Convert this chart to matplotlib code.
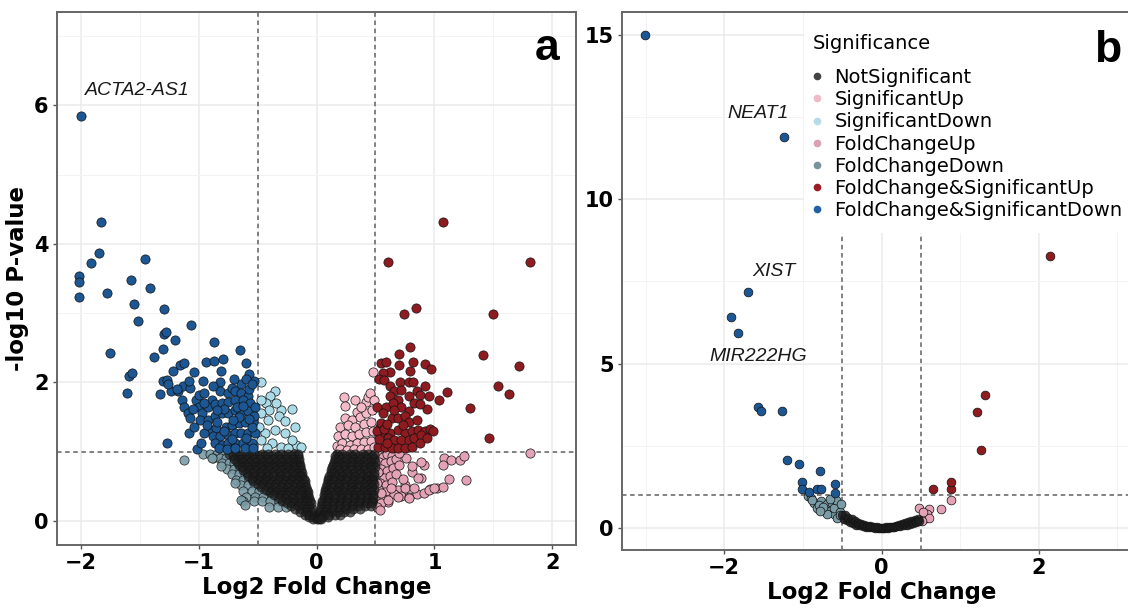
import matplotlib
matplotlib.use("Agg")
import matplotlib.pyplot as plt
from matplotlib.lines import Line2D
from matplotlib.patches import Rectangle
from matplotlib.ticker import MultipleLocator

# ---------------- Panel a data ----------------
a_fcsd_x = [-2.00, -1.83, -1.84, -1.91, -2.01, -2.01, -2.01, -1.78, -1.45, -1.57, -1.41, -1.55, -1.51,
            -1.29, -1.75, -1.06, -1.29, -1.28, -1.20, -1.30, -1.38, -0.87, -0.65, -1.59, -1.56, -1.61,
            -1.33, -0.94, -0.87, -0.79, -1.16, -1.12, -1.22, -1.04, -0.81, -1.30, -1.27, -0.96, -0.82,
            -0.57, -0.53, -1.08, -1.27, -1.01,
            -1.23, -1.17, -1.13, -1.07, -1.14, -1.12, -1.09, -1.07, -1.02, -1.00, -0.95, -0.89, -0.82,
            -0.75, -0.72, -0.69, -0.64, -0.64, -0.58, -1.00, -0.97, -0.92, -0.86, -0.80, -0.75, -0.69,
            -0.62, -0.56, -0.99, -0.92, -0.86, -0.80, -0.75, -0.69, -0.64, -0.58, -0.52, -0.90, -0.85,
            -0.77, -0.72, -0.66, -0.61, -0.54, -0.95, -0.88, -0.82, -0.75, -0.69, -0.64, -0.58, -0.52,
            -0.86, -0.80, -0.75, -0.69, -0.62, -0.55, -0.83, -0.76, -0.69, -0.61, -0.54,
            -0.57, -0.60, -0.67, -0.55, -0.60, -0.72, -0.78, -0.84, -0.93, -0.98, -1.04, -0.66, -0.71,
            -0.53, -0.57, -0.62, -0.78, -0.84, -0.95, -1.05, -1.18, -1.26, -1.08, -0.88, -0.70, -0.60, -0.55]
a_fcsd_y = [5.85, 4.31, 3.87, 3.72, 3.53, 3.45, 3.23, 3.29, 3.78, 3.48, 3.36, 3.13, 2.89,
            3.06, 2.42, 2.83, 2.70, 2.72, 2.61, 2.48, 2.37, 2.58, 2.47, 2.09, 2.13, 1.84,
            1.83, 2.29, 2.31, 2.33, 2.25, 2.28, 2.16, 2.15, 2.16, 2.02, 2.04, 2.02, 2.00,
            2.12, 2.02, 1.27, 1.13, 1.04,
            1.87, 1.87, 1.94, 1.92, 1.75, 1.65, 1.56, 1.49, 1.75, 1.82, 1.85, 1.75, 1.87,
            1.85, 1.92, 1.87, 1.97, 1.85, 1.80, 1.65, 1.56, 1.65, 1.68, 1.70, 1.72, 1.75,
            1.75, 1.70, 1.46, 1.46, 1.51, 1.56, 1.56, 1.60, 1.56, 1.58, 1.65, 1.31, 1.34,
            1.36, 1.39, 1.41, 1.43, 1.43, 1.27, 1.22, 1.22, 1.24, 1.27, 1.27, 1.27, 1.27,
            1.12, 1.10, 1.12, 1.12, 1.12, 1.12, 1.05, 1.03, 1.05, 1.05, 1.05,
            1.90, 2.05, 1.65, 1.35, 1.20, 1.18, 1.30, 1.42, 1.38, 1.13, 1.35, 1.50, 1.45,
            1.52, 1.47, 1.66, 1.62, 1.60, 1.70, 1.62, 1.90, 1.98, 2.02, 1.95, 2.05, 2.28, 1.98]

a_fcsu_x = [1.07, 0.61, 1.81, 0.84, 0.74, 1.50, 0.79, 1.41, 1.72, 0.70, 0.55, 0.59, 0.70, 0.82, 0.92,
            0.97, 0.62, 0.79, 0.56, 0.53, 0.57, 0.71, 0.78, 0.82, 0.92, 1.11, 1.54, 1.63, 1.30, 1.04,
            0.95, 0.94, 1.46,
            0.62, 0.66, 0.72, 0.85, 0.88, 0.62, 0.69, 0.78, 0.83, 0.88, 0.51, 0.59, 0.65, 0.72, 0.78,
            0.64, 0.69, 0.75, 0.78, 0.85, 0.54, 0.58, 0.62, 0.69, 0.75, 0.81, 0.86, 0.92, 0.96, 0.99,
            0.55, 0.61, 0.66, 0.72, 0.78, 0.83, 0.89, 0.52, 0.58, 0.64, 0.69, 0.75, 0.81, 0.51, 0.55,
            0.57, 0.53, 0.60, 0.56, 0.66, 0.73, 0.88, 0.94, 0.60]
a_fcsu_y = [4.31, 3.74, 3.74, 3.08, 2.98, 2.98, 2.51, 2.40, 2.24, 2.41, 2.28, 2.29, 2.25, 2.30, 2.26,
            2.19, 2.15, 2.16, 2.13, 2.05, 2.03, 2.00, 2.00, 2.00, 1.95, 1.86, 1.95, 1.83, 1.63, 1.74,
            1.80, 1.62, 1.20,
            1.94, 1.87, 1.89, 1.87, 1.82, 1.80, 1.75, 1.80, 1.70, 1.69, 1.65, 1.65, 1.70, 1.65, 1.58,
            1.49, 1.49, 1.51, 1.43, 1.46, 1.36, 1.31, 1.27, 1.31, 1.27, 1.29, 1.31, 1.29, 1.33, 1.29,
            1.22, 1.19, 1.17, 1.17, 1.17, 1.19, 1.24, 1.07, 1.07, 1.05, 1.05, 1.05, 1.07, 1.29, 1.41,
            1.33, 1.18, 1.40, 1.55, 1.60, 1.38, 1.12, 1.20, 1.12]

a_fcu_x = [1.08, 1.14, 1.22, 1.25, 1.07, 0.91, 0.81, 0.89, 1.12, 1.27, 0.75, 0.69, 0.66, 0.72, 0.78,
           0.85, 0.91, 0.96, 1.02, 1.07, 0.61, 1.81,
           0.52, 0.56, 0.60, 0.64, 0.53, 0.58, 0.63, 0.67, 0.55, 0.60, 0.65, 0.70, 0.52, 0.57, 0.62,
           0.67, 0.54, 0.59, 0.64, 0.53, 0.58, 0.63, 0.52, 0.57, 0.55, 0.81, 0.89, 0.86, 0.75, 0.83,
           0.95, 1.00, 0.61, 0.69, 0.78, 0.73, 0.76, 0.70, 0.51, 0.54, 0.52, 0.55, 0.51]
a_fcu_y = [0.91, 0.88, 0.88, 0.94, 0.80, 0.80, 0.70, 0.62, 0.60, 0.59, 0.52, 0.44, 0.38, 0.36, 0.34,
           0.38, 0.40, 0.46, 0.48, 0.49, 0.27, 0.98,
           0.95, 0.92, 0.96, 0.93, 0.85, 0.83, 0.86, 0.89, 0.75, 0.72, 0.76, 0.80, 0.66, 0.62, 0.65,
           0.68, 0.55, 0.52, 0.56, 0.45, 0.42, 0.47, 0.35, 0.32, 0.25, 0.79, 0.85, 0.62, 0.47, 0.47,
           0.45, 0.47, 0.30, 0.35, 0.33, 0.60, 0.90, 0.98, 0.20, 0.16, 0.70, 0.40, 0.55]

a_su_x = [0.23, 0.33, 0.24, 0.42, 0.44, 0.48, 0.24, 0.34, 0.30, 0.37, 0.42, 0.47, 0.20, 0.27, 0.33,
          0.40, 0.46, 0.18, 0.24, 0.30, 0.36, 0.42, 0.48, 0.17, 0.22, 0.28, 0.34, 0.40, 0.46, 0.20,
          0.26, 0.32, 0.38, 0.44, 0.49, 0.38, 0.45, 0.49]
a_su_y = [1.79, 1.75, 1.66, 1.71, 1.79, 2.15, 1.49, 1.57, 1.45, 1.50, 1.55, 1.60, 1.35, 1.38, 1.35,
          1.40, 1.42, 1.22, 1.25, 1.22, 1.26, 1.28, 1.30, 1.08, 1.12, 1.10, 1.12, 1.14, 1.15, 1.03,
          1.02, 1.04, 1.03, 1.04, 1.06, 1.65, 1.85, 1.75]

a_sd_x = [-0.47, -0.35, -0.39, -0.43, -0.40, -0.30, -0.21, -0.17, -0.47, -0.32, -0.41, -0.47, -0.35,
          -0.27, -0.21, -0.44, -0.47, -0.38, -0.30, -0.24, -0.42, -0.49, -0.34, -0.27, -0.18, -0.13]
a_sd_y = [2.00, 1.88, 1.80, 1.70, 1.60, 1.60, 1.61, 1.10, 1.75, 1.51, 1.46, 1.56, 1.31,
          1.27, 1.17, 1.27, 1.17, 1.12, 1.07, 1.05, 1.05, 1.36, 1.70, 1.44, 1.36, 1.07]

# fold-change-down halo below / left of the black cloud: (-log10 p, [log2 fold changes])
a_fcd_rows = [
    (0.97, [-0.96, -0.90, -0.84, -0.79]),
    (0.90, [-0.88, -0.82, -0.77]),
    (0.83, [-0.80, -0.74, -0.70]),
    (0.75, [-0.76, -0.70, -0.65]),
    (0.67, [-0.72, -0.66, -0.61]),
    (0.59, [-0.68, -0.62, -0.57]),
    (0.51, [-0.64, -0.58, -0.52]),
    (0.43, [-0.62, -0.55, -0.49, -0.44]),
    (0.35, [-0.60, -0.52, -0.45, -0.38]),
    (0.28, [-0.62, -0.53, -0.46, -0.39, -0.32]),
    (0.20, [-0.40, -0.33, -0.26]),
    (0.88, [-1.12]),
    (0.91, [-0.89]),
    (0.79, [-0.81]),
    (0.54, [-0.69]),
    (0.30, [-0.64]),
    (0.23, [-0.61]),
]

# not-significant cloud, listed row by row: (-log10 p, [log2 fold changes])
a_ns_rows = [
    (0.97, [-0.74, -0.68, -0.63, -0.57, -0.52, -0.46, -0.41, -0.35, -0.30, -0.24, -0.19, -0.16,
            0.17, 0.22, 0.28, 0.33, 0.39, 0.44, 0.49]),
    (0.93, [-0.71, -0.66, -0.60, -0.55, -0.49, -0.44, -0.38, -0.33, -0.27, -0.22, -0.16,
            0.16, 0.19, 0.25, 0.30, 0.36, 0.41, 0.47]),
    (0.89, [-0.70, -0.64, -0.59, -0.53, -0.48, -0.42, -0.37, -0.31, -0.26, -0.20, -0.15,
            0.155, 0.21, 0.26, 0.32, 0.37, 0.43, 0.49]),
    (0.85, [-0.67, -0.62, -0.56, -0.51, -0.45, -0.40, -0.34, -0.29, -0.23, -0.18, -0.145,
            0.15, 0.18, 0.24, 0.29, 0.35, 0.40, 0.46, 0.50]),
    (0.81, [-0.66, -0.60, -0.55, -0.49, -0.44, -0.38, -0.33, -0.27, -0.22, -0.17, -0.14,
            0.14, 0.20, 0.25, 0.31, 0.36, 0.42, 0.47]),
    (0.77, [-0.63, -0.58, -0.52, -0.47, -0.41, -0.36, -0.30, -0.25, -0.19, -0.14,
            0.13, 0.17, 0.23, 0.28, 0.34, 0.39, 0.45, 0.50]),
    (0.73, [-0.62, -0.56, -0.51, -0.45, -0.40, -0.34, -0.29, -0.23, -0.18, -0.13,
            0.125, 0.18, 0.24, 0.29, 0.35, 0.40, 0.46]),
    (0.69, [-0.59, -0.54, -0.48, -0.43, -0.37, -0.32, -0.26, -0.21, -0.16, -0.125,
            0.12, 0.15, 0.21, 0.26, 0.32, 0.37, 0.43, 0.49]),
    (0.65, [-0.58, -0.52, -0.47, -0.41, -0.36, -0.30, -0.25, -0.19, -0.14, -0.12,
            0.11, 0.17, 0.22, 0.28, 0.33, 0.39, 0.44, 0.49]),
    (0.61, [-0.55, -0.50, -0.44, -0.39, -0.33, -0.28, -0.22, -0.17, -0.11,
            0.10, 0.14, 0.20, 0.25, 0.31, 0.36, 0.42, 0.47]),
    (0.57, [-0.54, -0.48, -0.43, -0.37, -0.32, -0.26, -0.21, -0.15, -0.10,
            0.095, 0.15, 0.21, 0.26, 0.32, 0.37, 0.43, 0.48]),
    (0.53, [-0.50, -0.45, -0.39, -0.34, -0.28, -0.23, -0.17, -0.12, -0.095,
            0.09, 0.12, 0.18, 0.23, 0.29, 0.34, 0.40, 0.45, 0.49]),
    (0.49, [-0.47, -0.41, -0.36, -0.30, -0.25, -0.19, -0.14, -0.09,
            0.08, 0.14, 0.19, 0.25, 0.30, 0.36, 0.41, 0.47]),
    (0.45, [-0.43, -0.38, -0.32, -0.27, -0.21, -0.16, -0.11, -0.08,
            0.075, 0.11, 0.17, 0.22, 0.28, 0.33, 0.39, 0.44, 0.49]),
    (0.41, [-0.39, -0.34, -0.28, -0.23, -0.17, -0.12, -0.075,
            0.07, 0.12, 0.18, 0.23, 0.29, 0.34, 0.40, 0.46]),
    (0.37, [-0.36, -0.30, -0.25, -0.19, -0.14, -0.09, -0.07,
            0.065, 0.10, 0.15, 0.21, 0.26, 0.32, 0.37, 0.43, 0.48]),
    (0.33, [-0.32, -0.27, -0.21, -0.16, -0.10, -0.06,
            0.06, 0.11, 0.16, 0.22, 0.27, 0.33, 0.38, 0.44, 0.48]),
    (0.29, [-0.29, -0.23, -0.18, -0.12, -0.08, -0.055,
            0.05, 0.09, 0.14, 0.20, 0.25, 0.31, 0.36, 0.42, 0.47]),
    (0.25, [-0.25, -0.20, -0.14, -0.09, -0.05,
            0.045, 0.10, 0.15, 0.21, 0.26, 0.32, 0.37, 0.43, 0.47]),
    (0.21, [-0.22, -0.16, -0.11, -0.06,
            0.04, 0.08, 0.13, 0.19, 0.24, 0.30, 0.35, 0.41, 0.46]),
    (0.17, [-0.18, -0.13, -0.08, -0.04,
            0.035, 0.09, 0.14, 0.20, 0.25, 0.31, 0.37]),
    (0.13, [-0.14, -0.09, -0.04, 0.03, 0.07, 0.12, 0.18, 0.23, 0.28]),
    (0.09, [-0.10, -0.06, -0.02, 0.02, 0.06, 0.11, 0.16, 0.20]),
    (0.05, [-0.06, -0.02, 0.01, 0.05, 0.10]),
    (0.02, [-0.03, 0.00, 0.02, 0.04]),
]

# ---------------- Panel b data ----------------
b_fcsd_x = [-3.01, -1.24, -1.70, -1.92, -1.82, -1.57, -1.53, -1.27, -1.20, -1.05, -0.78, -1.01, -1.01,
            -0.92, -0.82, -0.77, -0.59, -0.59]
b_fcsd_y = [15.0, 11.9, 7.19, 6.41, 5.94, 3.67, 3.55, 3.55, 2.07, 1.96, 1.72, 1.40, 1.18,
            1.08, 1.18, 1.18, 1.33, 1.05]

b_fcsu_x = [2.14, 1.32, 1.22, 1.26, 0.66, 0.88, 0.89]
b_fcsu_y = [8.28, 4.04, 3.54, 2.36, 1.18, 1.18, 1.41]

b_fcu_x = [0.48, 0.61, 0.76, 0.88, 0.58, 0.56, 0.61, 0.52, 0.53]
b_fcu_y = [0.62, 0.59, 0.59, 0.85, 0.44, 0.31, 0.31, 0.21, 0.50]

b_fcd_x = [-0.94, -0.90, -0.86, -0.77, -0.69, -0.63, -0.56, -0.82, -0.73, -0.65, -0.61, -0.56, -0.69,
           -0.88, -0.80, -0.75, -0.60, -0.53, -0.58, -0.52, -0.66, -0.53, -0.78]
b_fcd_y = [0.98, 0.92, 0.77, 0.82, 0.72, 0.77, 0.67, 0.62, 0.57, 0.52, 0.42, 0.31, 0.42,
           0.85, 0.70, 0.65, 0.60, 0.50, 0.85, 0.72, 0.88, 0.38, 0.52]

b_ns_x = [-0.50, -0.48, -0.46, -0.44, -0.42, -0.40, -0.38, -0.36, -0.34, -0.32, -0.30, -0.28, -0.26,
          -0.24, -0.22, -0.20, -0.18, -0.16, -0.14, -0.12, -0.10, -0.08, -0.06, -0.04, -0.02, 0.00,
          0.02, 0.04, 0.06, 0.08, 0.10, 0.12, 0.14, 0.16, 0.18, 0.20, 0.22, 0.24, 0.26, 0.28, 0.30,
          0.32, 0.34, 0.36, 0.38, 0.40, 0.42, 0.44, 0.46, 0.48]
b_ns_y = [0.38, 0.28, 0.40, 0.25, 0.30, 0.18, 0.26, 0.15, 0.20, 0.10, 0.16, 0.08, 0.12,
          0.06, 0.09, 0.04, 0.07, 0.03, 0.05, 0.02, 0.03, 0.01, 0.02, 0.01, 0.00, 0.01,
          0.00, 0.01, 0.02, 0.01, 0.03, 0.02, 0.04, 0.03, 0.06, 0.05, 0.08, 0.06, 0.11, 0.08, 0.14,
          0.10, 0.17, 0.13, 0.20, 0.16, 0.24, 0.19, 0.28, 0.22]

# gene labels
a_genes = ["ACTA2-AS1"]
a_gene_x = [-1.515]
a_gene_y = [6.21]
b_genes = ["NEAT1", "XIST", "MIR222HG"]
b_gene_x = [-1.575, -1.37, -1.565]
b_gene_y = [12.6, 7.8, 5.23]

categories = ["NotSignificant", "SignificantUp", "SignificantDown", "FoldChangeUp",
              "FoldChangeDown", "FoldChange&SignificantUp", "FoldChange&SignificantDown"]
colors = {
    "NotSignificant": "#1e1e1e",
    "SignificantUp": "#f4bac8",
    "SignificantDown": "#acdbe8",
    "FoldChangeUp": "#e3a2b5",
    "FoldChangeDown": "#7a9ca6",
    "FoldChange&SignificantUp": "#8e1b20",
    "FoldChange&SignificantDown": "#1c5693",
}
legend_colors = {
    "NotSignificant": "#444444",
    "SignificantUp": "#efb9c5",
    "SignificantDown": "#b5dce6",
    "FoldChangeUp": "#d9a1b1",
    "FoldChangeDown": "#7a939b",
    "FoldChange&SignificantUp": "#9b1d24",
    "FoldChange&SignificantDown": "#2261a0",
}

a_ns_x = [x for yv, xs in a_ns_rows for x in xs]
a_ns_y = [yv for yv, xs in a_ns_rows for x in xs]
a_fcd_x = [x for yv, xs in a_fcd_rows for x in xs]
a_fcd_y = [yv for yv, xs in a_fcd_rows for x in xs]

TICK_FS = 15
LABEL_FS = 16.5

fig = plt.figure(figsize=(11.28, 6.09), dpi=100)
W, H = 1128, 609
axa = fig.add_axes([57 / W, (H - 545) / H, 519 / W, 533 / H])
axb = fig.add_axes([622 / W, (H - 550) / H, 519 / W, 538 / H])


def style(ax, xmaj, xmin, ymaj, ymin):
    ax.set_facecolor("white")
    ax.set_axisbelow(True)
    ax.xaxis.set_major_locator(MultipleLocator(xmaj))
    ax.xaxis.set_minor_locator(MultipleLocator(xmin))
    ax.yaxis.set_major_locator(MultipleLocator(ymaj))
    ax.yaxis.set_minor_locator(MultipleLocator(ymin))
    ax.grid(which="major", color="#ebebeb", linewidth=1.1)
    ax.grid(which="minor", color="#f3f3f3", linewidth=0.7)
    for s in ax.spines.values():
        s.set_color("#666666")
        s.set_linewidth(1.4)
        s.set_zorder(9)
    ax.tick_params(which="major", length=3, width=1, color="#555555",
                   labelsize=TICK_FS, pad=3)
    ax.tick_params(which="minor", length=0)
    for lab in ax.get_xticklabels() + ax.get_yticklabels():
        lab.set_fontweight("bold")
    ax.set_xlabel("Log2 Fold Change", fontsize=LABEL_FS, fontweight="bold", labelpad=2)


def pts(ax, x, y, cat, s=44, alpha=1.0, z=4):
    ax.scatter(x, y, s=s, c=colors[cat], edgecolors="#111111", linewidths=0.5,
               alpha=alpha, zorder=z)


# ----- panel a -----
axa.set_xlim(-2.2, 2.2)
axa.set_ylim(-0.35, 7.35)
style(axa, 1, 0.5, 2, 1)
axa.set_ylabel("-log10 P-value", fontsize=LABEL_FS, fontweight="bold", labelpad=4)
for ax in (axa, axb):
    ax.axvline(-0.5, color="#777777", linestyle=(0, (2.5, 2)), linewidth=1.3, zorder=2)
    ax.axvline(0.5, color="#777777", linestyle=(0, (2.5, 2)), linewidth=1.3, zorder=2)
    ax.axhline(1.0, color="#777777", linestyle=(0, (2.5, 2)), linewidth=1.3, zorder=2)

pts(axa, a_fcd_x, a_fcd_y, "FoldChangeDown", alpha=0.9)
pts(axa, a_fcu_x, a_fcu_y, "FoldChangeUp")
pts(axa, a_sd_x, a_sd_y, "SignificantDown")
pts(axa, a_su_x, a_su_y, "SignificantUp")
pts(axa, a_ns_x, a_ns_y, "NotSignificant", alpha=0.7)
pts(axa, a_fcsd_x, a_fcsd_y, "FoldChange&SignificantDown")
pts(axa, a_fcsu_x, a_fcsu_y, "FoldChange&SignificantUp")
for g, gx, gy in zip(a_genes, a_gene_x, a_gene_y):
    axa.text(gx, gy, g, fontsize=14, fontstyle="italic", family="Liberation Sans",
             ha="center", va="center", color="#1a1a1a", zorder=6)
axa.text(0.944, 0.91, "a", transform=axa.transAxes, fontsize=32, fontweight="bold",
         family="Liberation Sans", ha="center", va="baseline", zorder=6)

# ----- panel b -----
axb.set_xlim(-3.3, 3.3)
axb.set_ylim(-0.67, 15.7)
style(axb, 2, 1, 5, 2.5)
pts(axb, b_fcd_x, b_fcd_y, "FoldChangeDown", s=40)
pts(axb, b_fcu_x, b_fcu_y, "FoldChangeUp", s=40)
pts(axb, b_ns_x, b_ns_y, "NotSignificant", s=40, alpha=0.85)
pts(axb, b_fcsd_x, b_fcsd_y, "FoldChange&SignificantDown", s=40)
pts(axb, b_fcsu_x, b_fcsu_y, "FoldChange&SignificantUp", s=40)
for g, gx, gy in zip(b_genes, b_gene_x, b_gene_y):
    axb.text(gx, gy, g, fontsize=14, fontstyle="italic", family="Liberation Sans",
             ha="center", va="center", color="#1a1a1a", zorder=6)

# white legend background (covers grid and threshold lines like the original)
axb.add_patch(Rectangle((0.351, 0.589), 0.7, 0.411, transform=axb.transAxes,
                        facecolor="white", edgecolor="none", zorder=3, clip_on=True))
handles = [Line2D([], [], marker="o", linestyle="", markersize=4.5,
                  markerfacecolor=legend_colors[c], markeredgecolor=legend_colors[c])
           for c in categories]
leg = axb.legend(handles, categories, title="Significance", loc="upper left",
                 bbox_to_anchor=(0.316, 1.010), borderaxespad=0, borderpad=1.4,
                 frameon=False, fontsize=14, title_fontsize=14, labelspacing=0.165,
                 handlelength=0.35, handletextpad=0.75, alignment="left")
leg._legend_box.sep = 10.9  # larger gap between the title and the entries
leg.set_zorder(7)
axb.text(0.936, 0.907, "b", transform=axb.transAxes, fontsize=32, fontweight="bold",
         family="Liberation Sans", ha="center", va="baseline", zorder=8)

fig.savefig("out.png", dpi=100)
